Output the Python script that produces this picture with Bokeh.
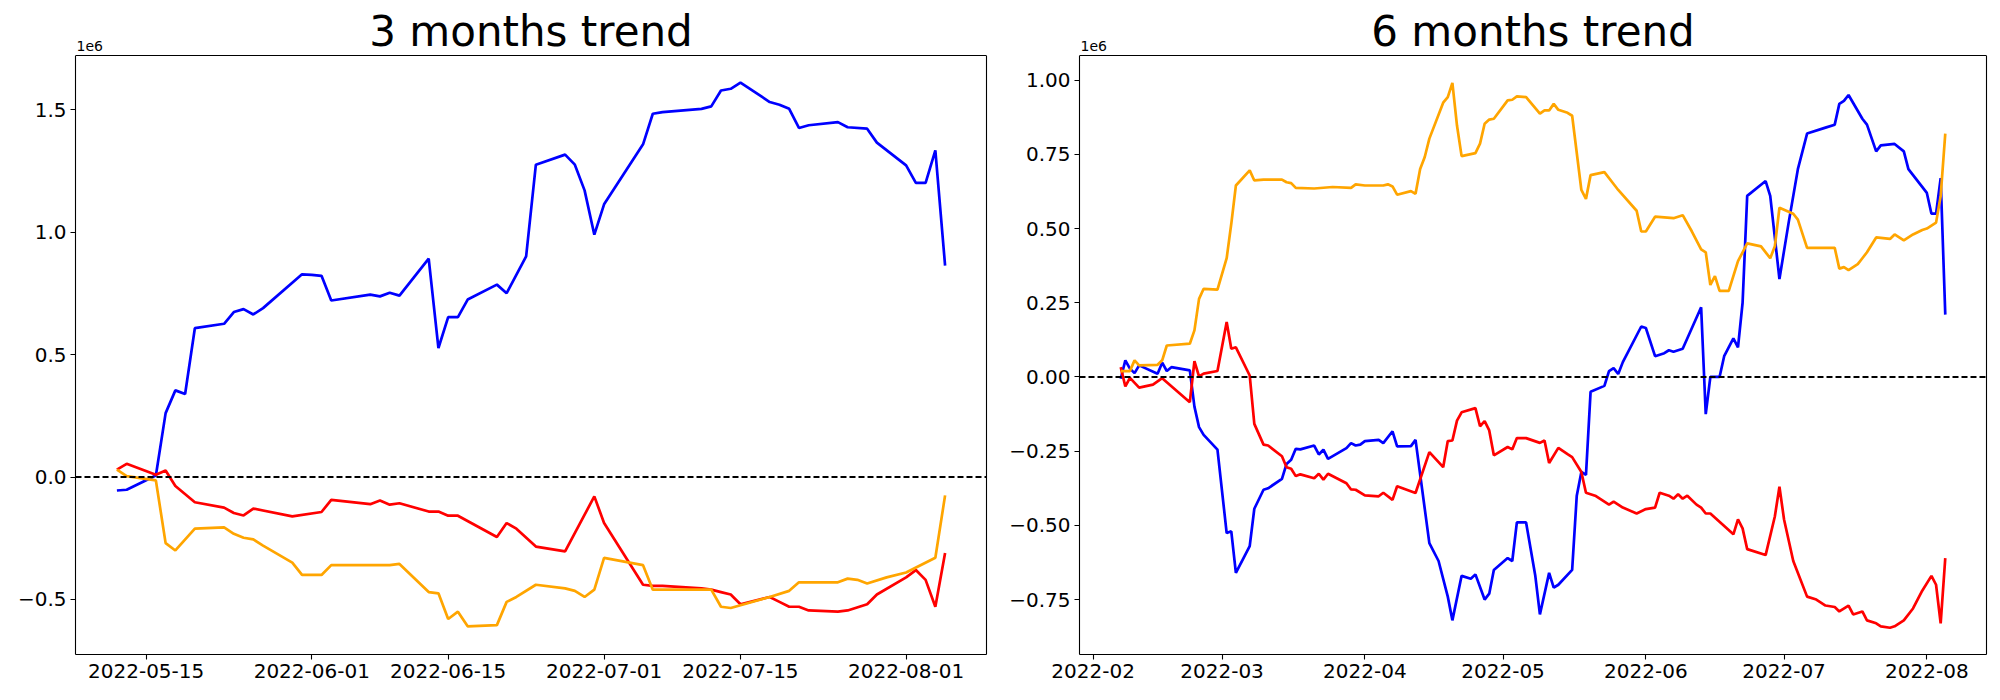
import numpy as np
import pandas as pd
from bokeh.plotting import figure
from bokeh.layouts import row
from bokeh.models import (Span, Label, FixedTicker, Range1d, CustomJSTickFormatter,
                          LinearAxis)
from bokeh.embed import file_html
from bokeh.resources import INLINE

FONT = "DejaVu Sans"

# ---------------- 3 months trend (values in units of 1e6, x as day offsets from start) ----
m3_start = "2022-05-12"
m3_end = "2022-08-05"
m3_blue_days = [0,1,4,5,6,7,8,11,12,13,14,15,19,20,21,22,26,27,28,29,32,33,34,35,36,39,40,42,43,
                46,47,48,49,50,54,55,56,60,61,62,63,64,67,68,69,70,71,74,75,77,78,81,82,83,84,85]
m3_blue_vals = [-0.055,-0.052,0.006,0.261,0.354,0.339,0.608,0.626,0.674,0.686,0.664,0.690,
                0.828,0.826,0.822,0.721,0.745,0.738,0.753,0.741,0.892,0.527,0.653,0.653,0.725,
                0.786,0.751,0.901,1.276,1.317,1.276,1.171,0.990,1.114,1.359,1.484,1.491,
                1.504,1.514,1.579,1.586,1.611,1.532,1.521,1.504,1.426,1.437,1.450,1.429,1.423,1.366,
                1.273,1.202,1.202,1.334,0.864]
m3_red_days = [0,1,4,5,6,8,11,12,13,14,18,21,22,26,27,28,29,32,33,34,35,39,40,41,43,46,49,50,
               54,55,56,60,61,62,63,64,67,68,69,70,71,74,75,77,78,81,82,83,84,85]
m3_red_vals = [0.030,0.054,0.009,0.027,-0.037,-0.103,-0.125,-0.147,-0.157,-0.129,-0.161,-0.143,
               -0.093,-0.111,-0.096,-0.113,-0.107,-0.141,-0.141,-0.158,-0.158,-0.245,-0.188,-0.211,
               -0.284,-0.304,-0.079,-0.188,-0.44,-0.445,-0.445,-0.455,-0.46,-0.47,-0.48,-0.52,
               -0.49,-0.51,-0.53,-0.53,-0.545,-0.55,-0.545,-0.52,-0.48,-0.41,-0.38,-0.42,-0.53,-0.31]
m3_orange_days = [0,1,4,5,6,8,11,12,13,14,15,18,19,21,22,28,29,32,33,34,35,36,39,40,41,43,46,47,
                  48,49,50,54,55,61,62,63,67,69,70,74,75,76,77,79,81,84,85]
m3_orange_vals = [0.030,0.004,-0.014,-0.27,-0.30,-0.211,-0.206,-0.232,-0.248,-0.255,-0.28,-0.35,
                  -0.40,-0.40,-0.36,-0.36,-0.355,-0.47,-0.475,-0.58,-0.55,-0.61,-0.605,-0.51,-0.49,
                  -0.44,-0.455,-0.465,-0.49,-0.46,-0.33,-0.36,-0.46,-0.46,-0.53,-0.535,-0.49,-0.465,
                  -0.43,-0.43,-0.415,-0.42,-0.435,-0.41,-0.39,-0.33,-0.075]
m3_xticks = ["2022-05-15", "2022-06-01", "2022-06-15", "2022-07-01", "2022-07-15", "2022-08-01"]
m3_yticks = [-0.5, 0.0, 0.5, 1.0, 1.5]
m3_yrange = (-0.725, 1.722)

# ---------------- 6 months trend ----------------
m6_start = "2022-02-07"
m6_end = "2022-08-05"
m6_blue_days = [0,1,2,3,4,8,9,10,11,15,16,17,18,21,23,24,25,28,29,31,32,35,36,37,38,39,42,43,44,45,
                49,50,51,52,53,56,57,59,60,63,64,67,69,71,72,74,76,77,79,80,81,84,85,86,88,90,91,93,94,95,
                98,99,100,101,102,105,106,107,108,109,113,114,116,118,119,120,122,126,127,128,
                130,131,133,134,135,136,140,141,143,145,147,149,153,155,156,157,158,161,162,164,
                165,168,170,171,175,176,177,178,179]
m6_blue_vals = [-0.006,0.056,0.028,0.013,0.039,0.011,0.048,0.020,0.033,0.022,
                -0.10,-0.169,-0.195,-0.245,-0.526,-0.520,-0.66,-0.57,-0.444,-0.380,
                -0.375,-0.343,-0.293,-0.279,-0.242,-0.244,-0.231,-0.261,-0.245,-0.276,
                -0.240,-0.223,-0.231,-0.228,-0.216,-0.212,-0.223,-0.183,-0.234,-0.233,
                -0.212,-0.56,-0.62,-0.74,-0.82,-0.67,-0.68,-0.665,-0.75,-0.73,
                -0.65,-0.61,-0.62,-0.49,-0.49,-0.67,-0.80,-0.66,-0.71,-0.70,
                -0.65,-0.40,-0.32,-0.33,-0.05,-0.03,0.02,0.03,0.01,0.05,
                0.17,0.165,0.07,0.08,0.09,0.085,0.095,0.235,-0.125,0.0,
                0.0,0.07,0.13,0.10,0.25,0.61,0.66,0.61,0.33,0.52,
                0.70,0.82,0.84,0.85,0.92,0.93,0.95,0.87,0.85,0.76,
                0.78,0.785,0.76,0.70,0.62,0.55,0.55,0.67,0.21]
m6_red_days = [0,1,2,4,7,9,15,16,17,18,21,23,24,25,28,29,31,32,35,36,
               37,38,39,42,43,44,45,49,50,51,53,56,57,59,60,64,67,70,71,72,
               73,74,77,78,79,80,81,84,85,86,88,91,92,93,95,97,98,100,101,
               103,104,106,107,109,112,114,116,117,119,120,121,122,123,125,126,127,128,133,134,
               135,136,140,142,143,144,146,149,151,153,155,156,158,159,161,162,164,165,167,168,
               170,172,174,176,177,178,179]
m6_red_vals = [0.033,-0.032,-0.003,-0.036,-0.026,-0.004,-0.085,0.053,0.002,0.011,
               0.020,0.185,0.095,0.100,0.005,-0.158,-0.228,-0.231,-0.267,-0.304,
               -0.309,-0.334,-0.328,-0.341,-0.326,-0.346,-0.326,-0.358,-0.379,-0.380,
               -0.399,-0.402,-0.390,-0.414,-0.368,-0.391,-0.253,-0.304,-0.216,-0.214,
               -0.147,-0.119,-0.105,-0.166,-0.149,-0.180,-0.264,-0.236,-0.244,-0.206,
               -0.206,-0.222,-0.214,-0.290,-0.239,-0.26,-0.27,-0.32,-0.39,
               -0.40,-0.41,-0.43,-0.42,-0.44,-0.46,-0.445,-0.44,-0.39,-0.40,
               -0.41,-0.395,-0.41,-0.40,-0.43,-0.44,-0.46,-0.46,-0.53,-0.48,
               -0.51,-0.58,-0.60,-0.47,-0.37,-0.48,-0.62,-0.74,-0.75,-0.77,
               -0.775,-0.79,-0.77,-0.80,-0.79,-0.82,-0.83,-0.84,-0.845,-0.84,
               -0.82,-0.78,-0.72,-0.67,-0.70,-0.83,-0.61]
m6_orange_days = [0,2,3,4,8,9,10,15,16,17,18,21,23,24,25,28,29,31,35,36,
                  37,38,42,46,50,51,53,57,58,59,60,63,64,65,66,67,70,71,72,73,
                  74,77,78,79,80,81,84,85,86,88,91,92,93,94,95,97,98,100,101,102,
                  105,107,108,112,113,114,116,120,122,124,126,127,128,129,130,132,134,135,136,139,
                  141,142,143,146,147,149,155,156,157,158,160,161,162,164,167,168,170,172,174,175,
                  177,178,179]
m6_orange_vals = [0.020,0.020,0.056,0.039,0.041,0.056,0.106,0.112,0.157,0.263,
                  0.297,0.294,0.40,0.516,0.645,0.696,0.662,0.665,0.665,0.656,
                  0.653,0.637,0.635,0.640,0.637,0.649,0.645,0.645,0.649,0.642,
                  0.614,0.626,0.617,0.701,0.741,0.803,0.924,0.943,0.991,0.847,
                  0.744,0.754,0.786,0.853,0.867,0.870,0.932,0.934,0.945,0.943,
                  0.887,0.898,0.898,0.920,0.900,0.89,0.88,0.63,0.60,0.68,
                  0.69,0.65,0.63,0.56,0.49,0.49,0.54,0.535,0.545,0.49,
                  0.43,0.42,0.31,0.34,0.29,0.29,0.39,0.42,0.45,0.44,
                  0.40,0.44,0.57,0.55,0.53,0.435,0.435,0.365,0.37,0.36,
                  0.38,0.40,0.42,0.47,0.465,0.48,0.46,0.48,0.495,0.50,
                  0.52,0.61,0.82]
m6_xticks = ["2022-02-01", "2022-03-01", "2022-04-01", "2022-05-01", "2022-06-01", "2022-07-01", "2022-08-01"]
m6_yticks = [-0.75, -0.5, -0.25, 0.0, 0.25, 0.5, 0.75, 1.0]
m6_yrange = (-0.935, 1.083)

COLORS = {"blue": "#0000ff", "red": "#ff0000", "orange": "#ffa500"}

FIG_H = 692
BOTTOM = 38
TOP = 55                      # space above the axes box (title + offset text live here)
BOX_H = FIG_H - BOTTOM - TOP  # height of the axes box


def ms(ts):
    return pd.Timestamp(ts).value / 1e6


def style_axis(ax):
    ax.major_label_text_font = FONT
    ax.major_label_text_font_size = "20px"
    ax.major_label_text_color = "black"
    ax.axis_line_color = "black"
    ax.axis_line_width = 1.1
    ax.major_tick_line_color = "black"
    ax.major_tick_line_width = 1.1
    ax.major_tick_out = 5
    ax.major_tick_in = 0
    ax.minor_tick_out = 0
    ax.minor_tick_in = 0
    ax.major_label_standoff = 4


def panel(title, start, end, series, xticks, datefmt, yticks, decimals, yrange,
          width, bl, br):
    t0 = pd.Timestamp(start)
    t1 = pd.Timestamp(end)
    span = (t1 - t0)
    xr = Range1d(ms(t0 - span * 0.05), ms(t1 + span * 0.05))
    ymin, ymax = yrange
    dpp = (ymax - ymin) / BOX_H
    # frame is extended upward so the title and the offset text can be drawn inside it
    yr = Range1d(ymin, ymax + TOP * dpp)
    p = figure(width=width, height=FIG_H, x_axis_type="datetime", x_range=xr,
               y_range=yr, output_backend="svg", toolbar_location=None,
               min_border_left=bl, min_border_right=br, min_border_top=0,
               min_border_bottom=BOTTOM)
    p.grid.visible = False
    p.outline_line_color = None
    p.background_fill_color = "white"
    p.border_fill_color = "white"

    for days, vals, color in series:
        x = t0 + pd.to_timedelta(np.array(days), unit="D")
        p.line(x, vals, line_color=COLORS[color], line_width=2.7)

    p.add_layout(Span(location=0, dimension="width", line_color="black",
                      line_dash="6 3", line_width=2))
    # top spine of the axes box
    p.add_layout(Span(location=ymax, dimension="width", line_color="black", line_width=1.1))

    p.xaxis.ticker = FixedTicker(ticks=[ms(t) for t in xticks])
    p.xaxis.formatter = CustomJSTickFormatter(
        code="const d = new Date(tick); return d.toISOString().slice(0, %d);" % datefmt)
    p.yaxis.ticker = FixedTicker(ticks=yticks)
    p.yaxis.bounds = (ymin, ymax)
    p.yaxis.formatter = CustomJSTickFormatter(
        code="return tick.toFixed(%d).replace('-', '\\u2212');" % decimals)
    style_axis(p.xaxis[0])
    style_axis(p.yaxis[0])

    # right spine
    rax = LinearAxis(ticker=FixedTicker(ticks=[]), bounds=(ymin, ymax))
    style_axis(rax)
    rax.major_tick_out = 0
    rax.major_label_text_font_size = "0px"
    rax.major_label_standoff = 0
    p.add_layout(rax, "right")

    xmid = (xr.start + xr.end) / 2
    xdpp = (xr.end - xr.start) / (width - bl - br)
    p.add_layout(Label(x=xmid, y=ymax + 24.5 * dpp, text=title, text_font=FONT,
                       text_font_size="42px", text_align="center",
                       text_baseline="middle", text_color="black"))
    p.add_layout(Label(x=xr.start + 1.0 * xdpp, y=ymax + 9.5 * dpp, text="1e6", text_font=FONT,
                       text_font_size="14px", text_align="left",
                       text_baseline="middle", text_color="black"))
    return p


p1 = panel("3 months trend", m3_start, m3_end,
           [(m3_blue_days, m3_blue_vals, "blue"), (m3_red_days, m3_red_vals, "red"),
            (m3_orange_days, m3_orange_vals, "orange")],
           m3_xticks, 10, m3_yticks, 1, m3_yrange, 1006, 75, 20)
p2 = panel("6 months trend", m6_start, m6_end,
           [(m6_blue_days, m6_blue_vals, "blue"), (m6_red_days, m6_red_vals, "red"),
            (m6_orange_days, m6_orange_vals, "orange")],
           m6_xticks, 7, m6_yticks, 2, m6_yrange, 986, 68, 6)

layout = row(p1, p2)
open("out.html", "w").write(file_html(layout, INLINE))
